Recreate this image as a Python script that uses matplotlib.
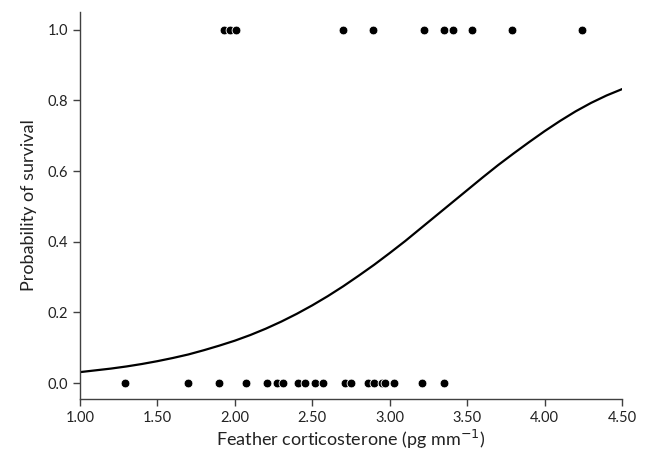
import numpy as np
import matplotlib
matplotlib.use("Agg")
import matplotlib.pyplot as plt

# birds that died (0) and survived (1), feather corticosterone in pg/mm
died_x = [1.29, 1.70, 1.90, 2.07, 2.21, 2.27, 2.31, 2.41, 2.45, 2.52, 2.57,
          2.71, 2.75, 2.86, 2.90, 2.95, 2.97, 3.03, 3.21, 3.35]
survived_x = [1.93, 1.97, 2.01, 2.70, 2.89, 3.22, 3.35, 3.41, 3.53, 3.79, 4.24]

# fitted logistic curve, every 0.1
curve_x = [1.0, 1.1, 1.2, 1.3, 1.4, 1.5, 1.6, 1.7, 1.8, 1.9,
           2.0, 2.1, 2.2, 2.3, 2.4, 2.5, 2.6, 2.7, 2.8, 2.9,
           3.0, 3.1, 3.2, 3.3, 3.4, 3.5, 3.6, 3.7, 3.8, 3.9,
           4.0, 4.1, 4.2, 4.3, 4.4, 4.5]
curve_y = [0.031, 0.036, 0.041, 0.047, 0.054, 0.062, 0.071, 0.081, 0.093, 0.106,
           0.120, 0.136, 0.154, 0.174, 0.196, 0.220, 0.246, 0.274, 0.304, 0.335,
           0.368, 0.402, 0.438, 0.474, 0.510, 0.546, 0.582, 0.617, 0.650, 0.682,
           0.713, 0.742, 0.769, 0.793, 0.814, 0.832]

x_ticks = [1.0, 1.5, 2.0, 2.5, 3.0, 3.5, 4.0, 4.5]
y_ticks = [0.0, 0.2, 0.4, 0.6, 0.8, 1.0]

plt.rcParams['font.family'] = ['Lato', 'DejaVu Sans']

fig = plt.figure(figsize=(6.5, 4.65), dpi=100)
ax = fig.add_axes([0.123, 0.142, 0.834, 0.832])

ax.plot(curve_x, curve_y, color='black', lw=1.6, zorder=2)
ax.scatter(died_x, np.zeros(len(died_x)), s=40, color='black',
           edgecolors='white', linewidths=0.6, zorder=3)
ax.scatter(survived_x, np.ones(len(survived_x)), s=40, color='black',
           edgecolors='white', linewidths=0.6, zorder=3)

ax.set_xlim(1.0, 4.5)
ax.set_ylim(-0.045, 1.05)
ax.set_xticks(x_ticks)
ax.set_yticks(y_ticks)
ax.set_xticklabels(['%.2f' % v for v in x_ticks])
ax.set_yticklabels(['%.1f' % v for v in y_ticks])

for s in ['top', 'right']:
    ax.spines[s].set_visible(False)
for s in ['left', 'bottom']:
    ax.spines[s].set_color('#404040')
    ax.spines[s].set_linewidth(1.0)
ax.tick_params(direction='out', length=5, width=1, color='#404040',
               labelsize=10.5, labelcolor='#222222')

ax.set_xlabel('Feather corticosterone (pg mm$^{-1}$)', fontsize=13,
              color='#222222', labelpad=2)
ax.set_ylabel('Probability of survival', fontsize=13, color='#222222',
              labelpad=8)

fig.savefig('out.png', dpi=100)
